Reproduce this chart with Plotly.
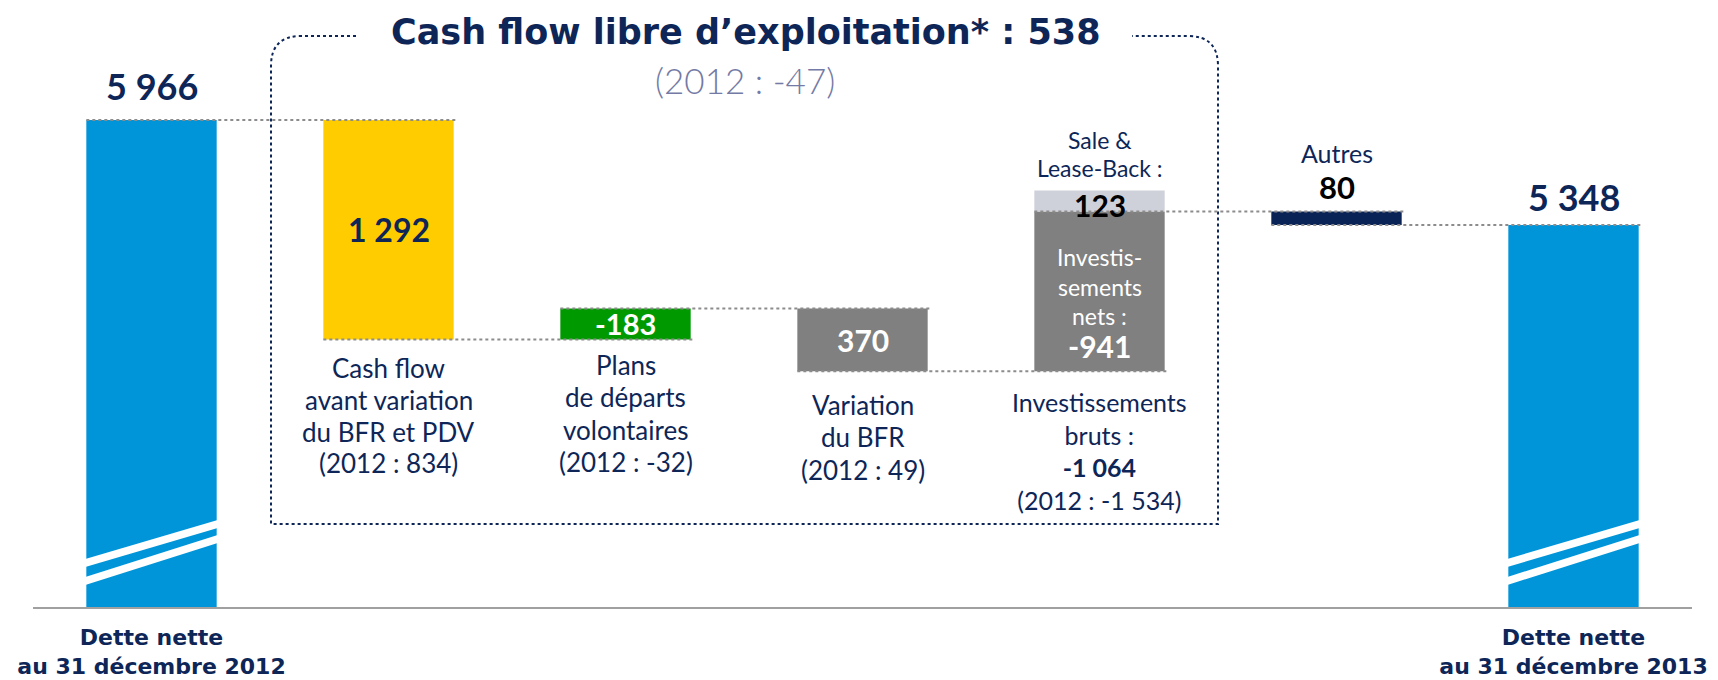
import plotly.graph_objects as go

# ---------------- data ----------------
categories = ["Dette nette au 31 décembre 2012", "Cash flow avant variation du BFR et PDV",
              "Plans de départs volontaires", "Variation du BFR", "Investissements",
              "Autres", "Dette nette au 31 décembre 2013"]
net_debt_2012 = 5966
cash_flow = 1292
departures = -183
wcr_change = 370
gross_capex = -1064
sale_leaseback = 123
net_capex = -941
others = 80
net_debt_2013 = 5348
free_cash_flow = 538
free_cash_flow_2012 = -47
prior_cash_flow = 834
prior_departures = -32
prior_wcr = 49
prior_gross_capex = -1534

# ---------------- style ----------------
W, H = 1718, 680
ML, MR, MB = 33, 26, 73
PW, PH = W - ML - MR, H - MB
AX_MIN, AX_MAX = 3100, 6672
BW = 0.55
NAVY = "#0d2657"
BLUE = "#0095d9"
FONT = "Lato"
WIDE = "DejaVu Sans"


def fmt(v):
    return f"{v:,}".replace(",", " ")


def X(px):
    return (px - ML) / PW


def Y(py):
    return (PH - py) / PH


# cumulative levels
l0 = net_debt_2012
l1 = l0 - cash_flow
l2 = l1 - departures
l3 = l2 - wcr_change
l4g = l3 - gross_capex
l4 = l3 - net_capex
l5 = l4 - others

xs = list(range(7))
bases = [AX_MIN, l1, min(l1, l2), l3, l3, l5, AX_MIN]
heights = [l0 - AX_MIN, cash_flow, abs(departures), wcr_change, abs(net_capex), others,
           net_debt_2013 - AX_MIN]
colors = [BLUE, "#ffcc00", "#009a00", "#808080", "#808080", "#0a2357", BLUE]

fig = go.Figure()
fig.add_trace(go.Bar(x=xs, y=heights, base=bases, width=BW, marker_color=colors,
                     marker_line_width=0, hovertext=categories, showlegend=False))
fig.add_trace(go.Bar(x=[4], y=[sale_leaseback], base=[l4], width=BW,
                     marker_color="#cfd1da", marker_line_width=0, showlegend=False))

shapes = []
# dotted connectors
levels = [l0, l1, l2, l3, l4, l5]
for i, lv in enumerate(levels):
    shapes.append(dict(type="line", xref="x", yref="y", x0=i - BW / 2, x1=i + 1 + BW / 2 + 0.01,
                       y0=lv, y1=lv, line=dict(color="#8c8c8c", width=2, dash="dot"), layer="above"))

# break stripes on total bars
for i in (0, 6):
    cx = ML + PW * (i + 0.5) / 7
    xl, xr = X(cx - BW * PW / 7 / 2 - 1), X(cx + BW * PW / 7 / 2 + 1)
    for (a, b, t) in [(48, 87, 8), (30, 72, 8)]:
        path = (f"M {xl} {Y(PH - a)} L {xr} {Y(PH - b)} L {xr} {Y(PH - b + t)} "
                f"L {xl} {Y(PH - a + t)} Z")
        shapes.append(dict(type="path", xref="paper", yref="paper", path=path,
                           fillcolor="white", line=dict(width=0), layer="above"))

# free cash flow frame
bl, br, bt, bb, r = 271, 1218, 36, 524, 30
frame = (f"M {X(356)} {Y(bt)} L {X(bl + r)} {Y(bt)} Q {X(bl)} {Y(bt)} {X(bl)} {Y(bt + r)} "
         f"L {X(bl)} {Y(bb)} L {X(br)} {Y(bb)} L {X(br)} {Y(bt + r)} "
         f"Q {X(br)} {Y(bt)} {X(br - r)} {Y(bt)} L {X(1132)} {Y(bt)}")
shapes.append(dict(type="path", xref="paper", yref="paper", path=frame,
                   line=dict(color=NAVY, width=2, dash="dot"), layer="below"))

ann = []


def add(text, x, y, size, color=NAVY, bold=False, xref="x", yref="paper", family=FONT, weight=None):
    t = f"<b>{text}</b>" if bold else text
    f = dict(family=family, size=size, color=color)
    if weight:
        f["weight"] = weight
    ann.append(dict(text=t, x=x, y=Y(y) if yref == "paper" else y, xref=xref, yref=yref,
                    showarrow=False, xanchor="center", yanchor="middle", font=f))


def add_lines(lines, x, ys, size, **kw):
    for line, y in zip(lines, ys):
        add(line, x, y, size, **kw)


# title
add(f"Cash flow libre d’exploitation* : {free_cash_flow}", X(746), 32, 35, bold=True,
    xref="paper", family=WIDE)
add(f"(2012 : {free_cash_flow_2012})", X(745), 80, 35, color="#737aa5", xref="paper", weight=300)

# values
add(fmt(net_debt_2012), 0, 86, 36, bold=True)
add(fmt(cash_flow), 1, (l0 + l1) / 2, 32, bold=True, yref="y")
add(fmt(departures), 2, (l1 + l2) / 2, 29, color="white", bold=True, yref="y")
add(fmt(wcr_change), 3, (l2 + l3) / 2, 30, color="white", bold=True, yref="y")
add_lines(["Sale &", "Lease-Back :"], 4, [140, 168], 23)
add(fmt(sale_leaseback), 4, 205, 30, color="black", bold=True)
add_lines(["Investis-", "sements", "nets :"], 4, [257, 287, 316], 23, color="white")
add(fmt(net_capex), 4, 346, 30, color="white", bold=True)
add("Autres", 5, 153, 25)
add(fmt(others), 5, 187, 31, color="black", bold=True)
add(fmt(net_debt_2013), 6, 197, 36, bold=True)

# category captions
add_lines(["Cash flow", "avant variation", "du BFR et PDV", f"(2012 : {prior_cash_flow})"],
          1, [368, 400, 432, 463], 26)
add_lines(["Plans", "de départs", "volontaires", f"(2012 : {prior_departures})"],
          2, [365, 397, 430, 462], 26)
add_lines(["Variation", "du BFR", f"(2012 : {prior_wcr})"], 3, [405, 437, 470], 26)
add(f"Investissements<br>bruts :<br><b>{fmt(gross_capex)}</b><br>(2012 : {fmt(prior_gross_capex)})",
    4, 451, 25)

fig.update_layout(
    width=W, height=H, margin=dict(l=ML, r=MR, t=0, b=MB, pad=0),
    paper_bgcolor="white", plot_bgcolor="white", barmode="overlay",
    shapes=shapes, annotations=ann, showlegend=False,
    font=dict(family=FONT, color=NAVY),
    xaxis=dict(range=[-0.5, 6.5], showgrid=False, zeroline=False, showline=True,
               linecolor="#a0a0a0", linewidth=2, ticks="", tickvals=[0, 6],
               ticktext=["<b>Dette nette</b><br><b>au 31 décembre 2012</b>",
                         "<b>Dette nette</b><br><b>au 31 décembre 2013</b>"],
               tickfont=dict(family=WIDE, size=22, color=NAVY), ticklabelstandoff=10,
               fixedrange=True),
    yaxis=dict(range=[AX_MIN, AX_MAX], visible=False, fixedrange=True),
)

fig.write_html("out.html", config={"displayModeBar": False},
               post_script="document.body.style.margin='0px';document.body.style.overflow='hidden';")
